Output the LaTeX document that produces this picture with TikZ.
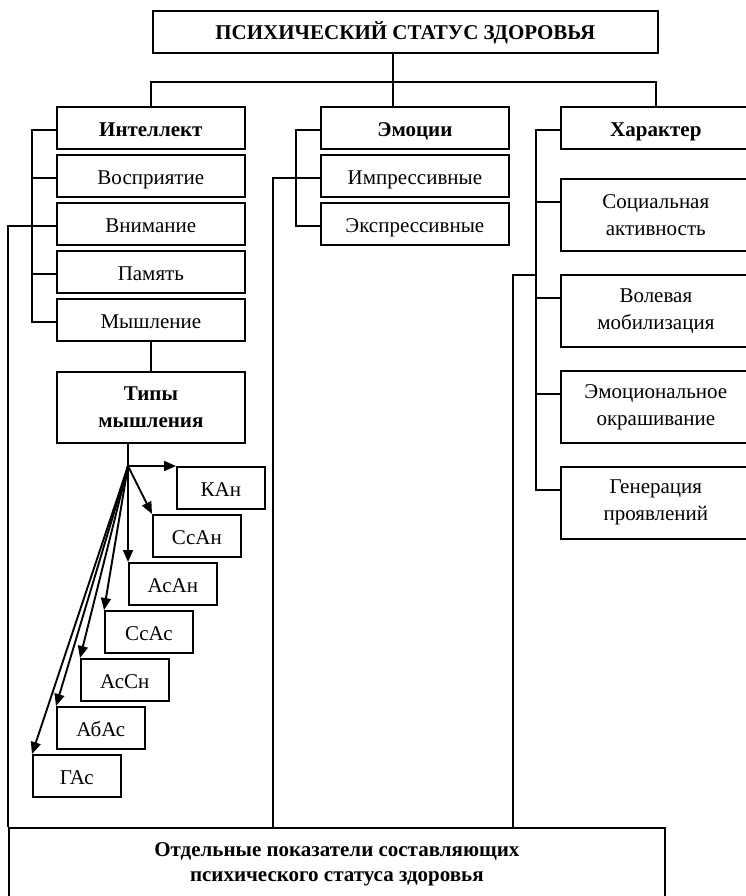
\documentclass[tikz,border=0pt]{standalone}
\usepackage{fontspec}
\setmainfont{Liberation Serif}
\usetikzlibrary{arrows.meta,calc}
\begin{document}
\begin{tikzpicture}[x=1pt,y=-1pt,
  box/.style={draw,line width=1.7pt,inner sep=0pt,anchor=north west,align=center,
    minimum width=188pt,minimum height=42pt,font=\fontsize{21}{27}\selectfont},
  one/.style={text height=18pt,text depth=0pt},
  tall/.style={minimum height=72pt},
  small/.style={minimum width=88pt},
  ln/.style={line width=1.7pt},
  arr/.style={line width=1.9pt,-{Triangle[length=12pt,width=10pt]}}]
\useasboundingbox (0,0) rectangle (745,896);

% top
\node[box,one,minimum width=505pt,text height=16pt] (top) at (152,10) {\textbf{ПСИХИЧЕСКИЙ СТАТУС ЗДОРОВЬЯ}};

% intellect column
\node[box,one] (int) at (56,106) {\textbf{Интеллект}};
\node[box,one] (vos) at (56,154) {Восприятие};
\node[box,one] (vni) at (56,202) {Внимание};
\node[box,one] (pam) at (56,250) {Память};
\node[box,one] (mys) at (56,298) {Мышление};
\node[box,minimum height=71pt] (tip) at (56,371) {\textbf{Типы}\\\textbf{мышления}};

% emotions column
\node[box,one] (emo) at (320,106) {\textbf{Эмоции}};
\node[box,one] (imp) at (320,154) {Импрессивные};
\node[box,one] (eks) at (320,202) {Экспрессивные};

% character column
\node[box,one,minimum width=190pt] (har) at (560,106) {\textbf{Характер}};
\node[box,tall,minimum width=190pt] (soc) at (560,178) {Социальная\\активность};
\node[box,tall,minimum width=190pt] (vol) at (560,274) {Волевая\\мобилизация};
\node[box,tall,minimum width=190pt] (emk) at (560,370) {Эмоциональное\\окрашивание};
\node[box,tall,minimum width=190pt] (gen) at (560,466) {Генерация\\проявлений};

% types of thinking
\node[box,one,small] (kan) at (176,466) {КАн};
\node[box,one,small] (ssan) at (152,514) {СсАн};
\node[box,one,small] (asan) at (128,562) {АсАн};
\node[box,one,small] (ssas) at (104,610) {СсАс};
\node[box,one,small] (assn) at (80,658) {АсСн};
\node[box,one,small] (abas) at (56,706) {АбАс};
\node[box,one,small] (gas) at (32,754) {ГАс};

% bottom
\node[box,minimum width=656pt,minimum height=72pt,font=\fontsize{21}{25}\selectfont] (bot) at (8,827)
  {\textbf{Отдельные показатели составляющих}\\\textbf{психического статуса здоровья}};

% top bus
\coordinate (bus) at (393,82);
\draw[ln] (top.south -| bus) -- (bus);
\draw[ln] (int.north) |- (bus) -| (har.north);
\draw[ln] (bus) -- (bus |- emo.north);

% intellect bracket
\draw[ln] ($(int.north west)+(0,24)$) -- ++(-24,0) |- ($(mys.north west)+(0,24)$);
\draw[ln] ($(vos.north west)+(0,24)$) -- ++(-24,0);
\draw[ln] ($(vni.north west)+(0,24)$) -- ++(-24,0);
\draw[ln] ($(pam.north west)+(0,24)$) -- ++(-24,0);
\coordinate (l1) at (8,226);
\draw[ln] ($(vni.north west)+(-24,24)$) -- (l1) -- (l1 |- bot.north);

% emotions bracket
\draw[ln] ($(emo.north west)+(0,24)$) -- ++(-24,0) |- ($(eks.north west)+(0,24)$);
\draw[ln] ($(imp.north west)+(0,24)$) -- ++(-24,0);
\coordinate (l2) at (273,178);
\draw[ln] ($(imp.north west)+(-24,24)$) -- (l2) -- (l2 |- bot.north);

% character bracket
\draw[ln] ($(har.north west)+(0,24)$) -- ++(-24,0) |- ($(gen.north west)+(0,24)$);
\draw[ln] ($(soc.north west)+(0,24)$) -- ++(-24,0);
\draw[ln] ($(vol.north west)+(0,24)$) -- ++(-24,0);
\draw[ln] ($(emk.north west)+(0,24)$) -- ++(-24,0);
\coordinate (hb) at (536,275);
\coordinate (l3) at (513,275);
\draw[ln] (hb) -- (l3) -- (l3 |- bot.north);

% thinking
\draw[ln] (mys.south) -- (tip.north);
\coordinate (fan) at (128,466);
\draw[ln] (tip.south -| fan) -- (fan);
\draw[arr] (fan) -- (kan.north west);
\draw[arr] (fan) -- (ssan.north west);
\draw[arr] (fan) -- (asan.north west);
\draw[arr] (fan) -- (ssas.north west);
\draw[arr] (fan) -- (assn.north west);
\draw[arr] (fan) -- (abas.north west);
\draw[arr] (fan) -- (gas.north west);
\end{tikzpicture}
\end{document}
